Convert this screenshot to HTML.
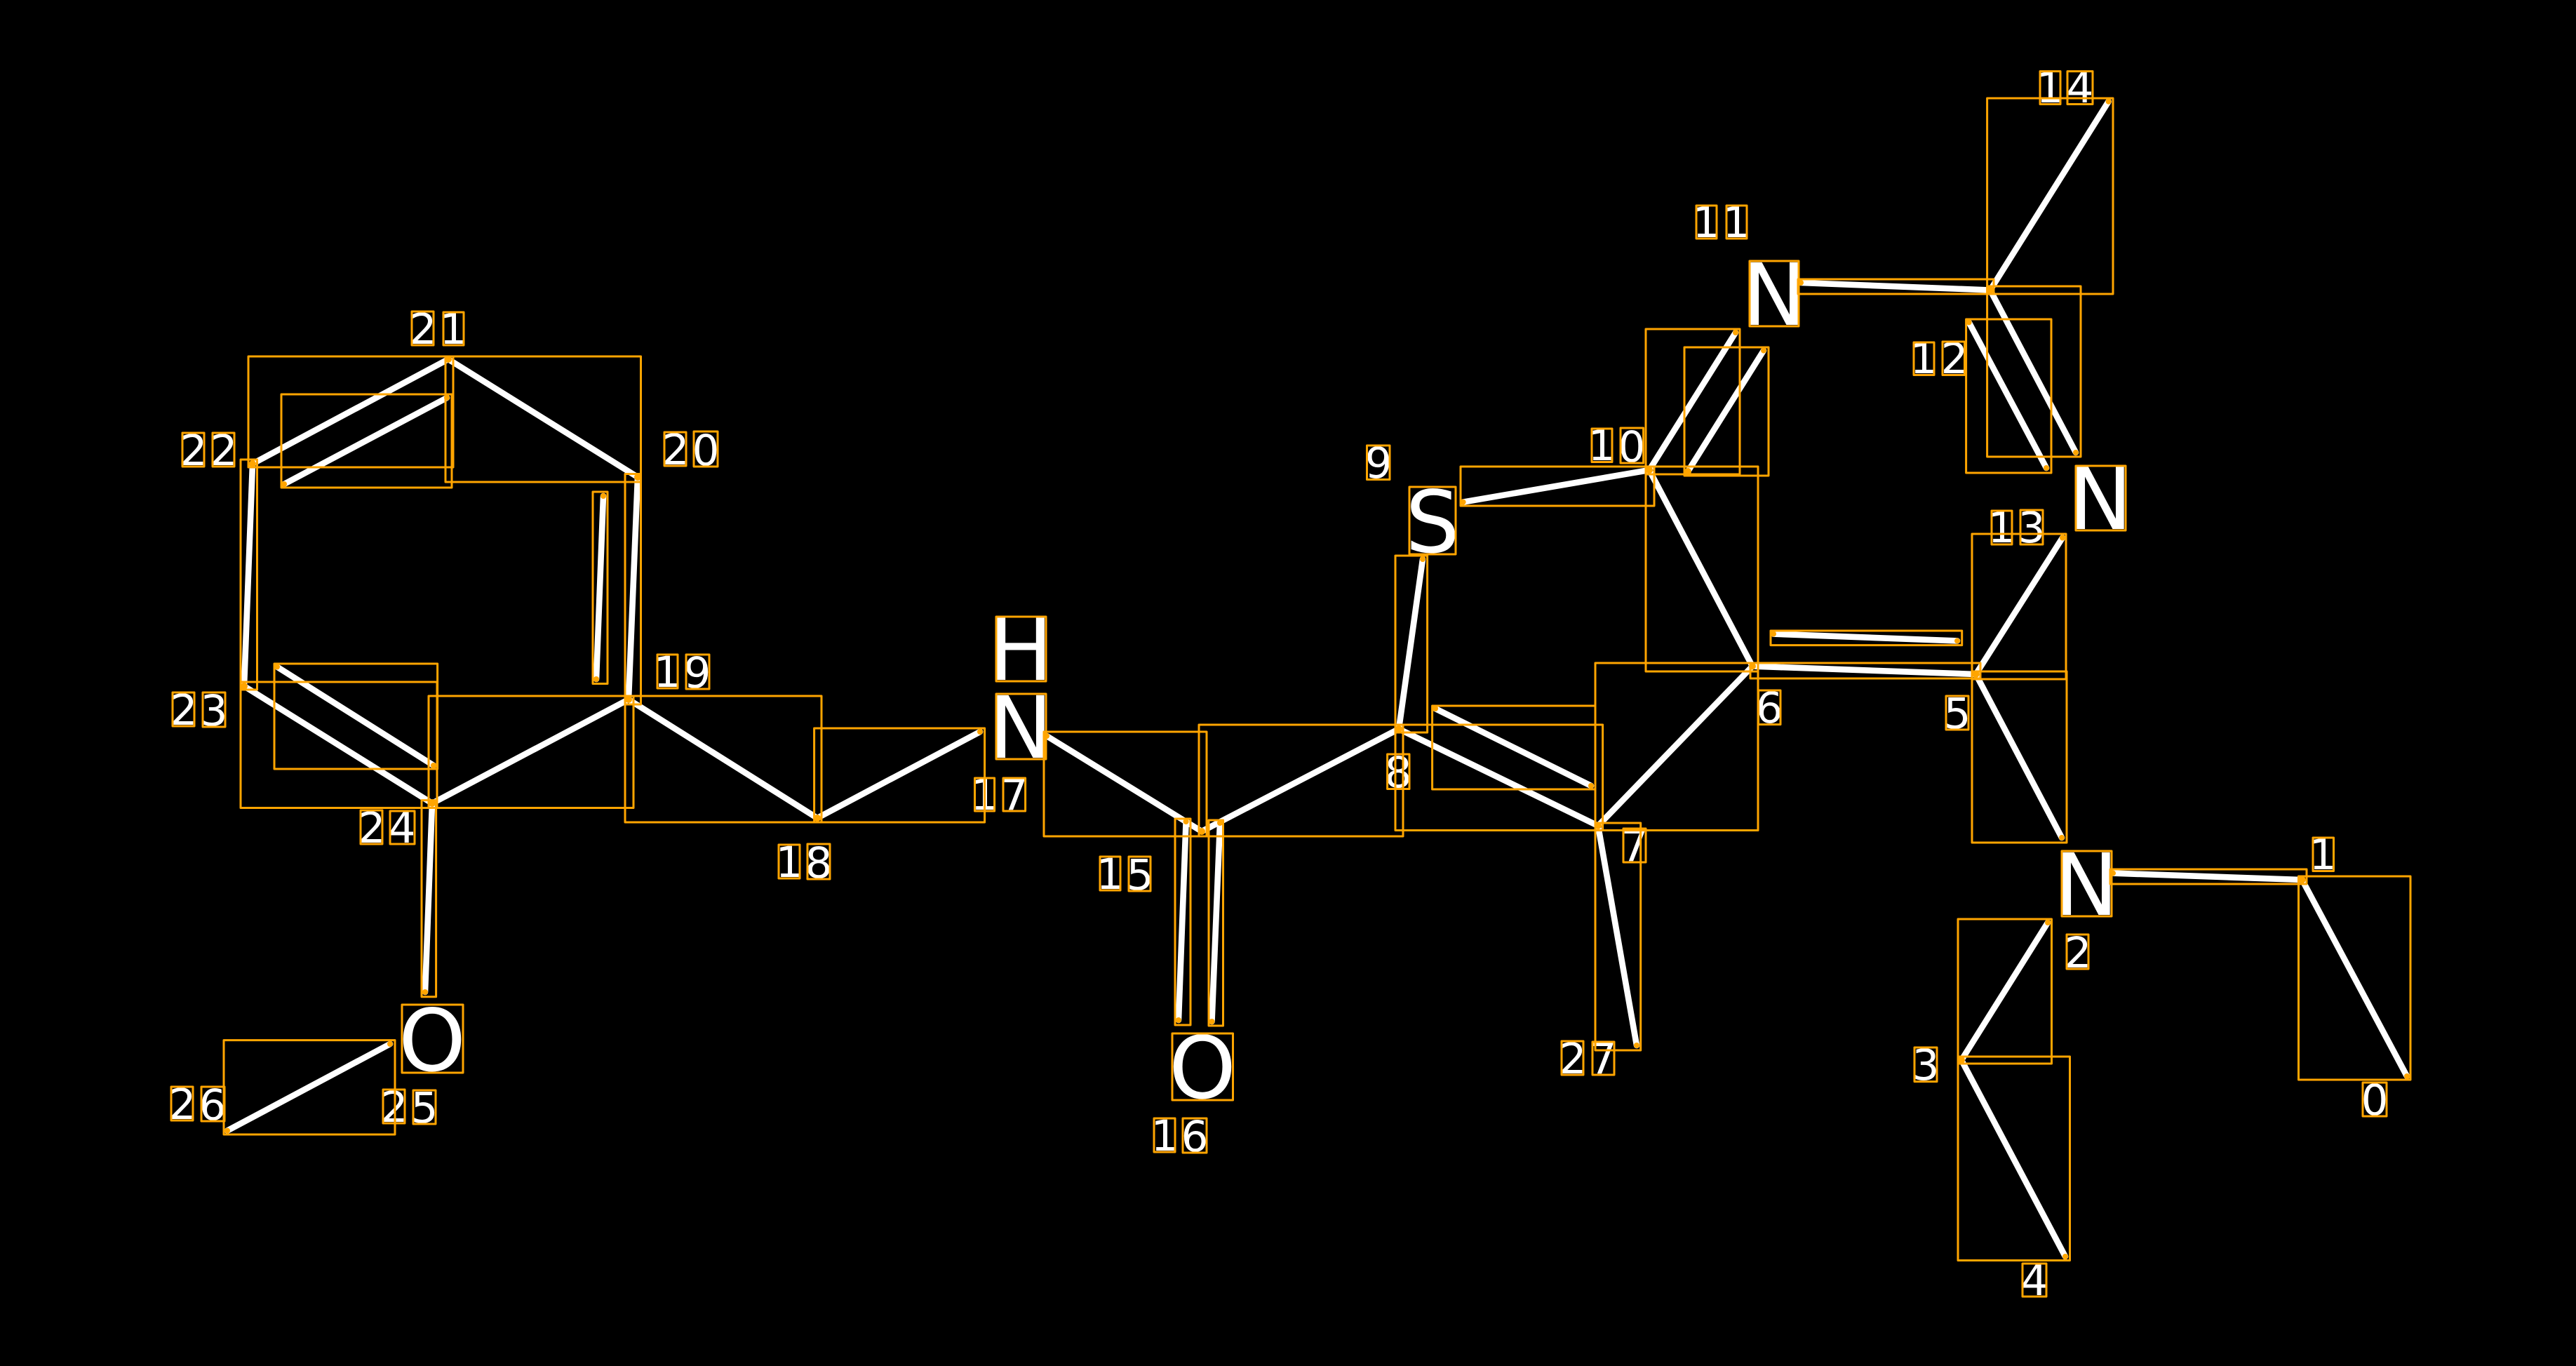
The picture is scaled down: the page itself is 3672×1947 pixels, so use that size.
<!DOCTYPE html>
<html><head><meta charset="utf-8"><style>
html,body{margin:0;padding:0;background:#000;width:3672px;height:1947px;overflow:hidden}
svg{display:block}
text{font-family:"DejaVu Sans","Liberation Sans",sans-serif;fill:#fff;text-anchor:middle}
.d{font-size:61px}.b{font-size:122px}
</style></head><body>
<svg width="3672" height="1947" viewBox="0 0 3672 1947" xmlns="http://www.w3.org/2000/svg">
<rect width="3672" height="1947" fill="#000"/>
<g stroke="#fff" stroke-width="8.6" stroke-linecap="round" fill="none">
<path d="M639 512L360 661M639 512L909 680M405 690L637 567M909 680L896 997M860 707L850 968M896 997L616 1145M348 978L616 1145M360 661L348 978M395 950.5L618 1091M896 997L1165 1166M1165 1166L1397 1043M1492 1049L1713 1185M1713 1185L1994 1039M1690.6 1171L1680 1454M1739 1173L1727.5 1456M1994 1039L2028 797M2085.6 715.6L2351 670M2351 670L2498 949.6M2498 949.6L2278 1177M1994 1039L2278 1177M2046 1010L2268 1120M2278 1177L2333 1490M2498 949.6L2816.5 961M2528 903.6L2790 913.4M2816.5 961L2940 766.5M2816.5 961L2939 1194M2351 670L2474 474M2406 672L2514 499.6M2567 403L2837 413.5M2837 413.5L3005.6 144.7M2837 413.5L2959 645M2806.6 459.4L2917 667M3012 1244.6L3281.6 1254M3281.6 1254L3431 1534M2919 1315L2796 1511M2796 1511L2944 1791M556 1488L324 1611.6M616 1145L606 1414"/>
</g>
<g class="d">
<text class="d" x="603" y="490">2</text><text class="d" x="646" y="490">1</text>
<text class="d" x="276" y="663">2</text><text class="d" x="319" y="663">2</text>
<text class="d" x="963" y="662">2</text><text class="d" x="1006" y="663">0</text>
<text class="d" x="951" y="979">1</text><text class="d" x="994" y="980">9</text>
<text class="d" x="262" y="1033">2</text><text class="d" x="305" y="1034">3</text>
<text class="d" x="530" y="1201">2</text><text class="d" x="573" y="1201">4</text>
<text class="d" x="260" y="1595">2</text><text class="d" x="303" y="1596">6</text>
<text class="d" x="562" y="1599">2</text><text class="d" x="605" y="1600">5</text>
<text class="d" x="1125" y="1250">1</text><text class="d" x="1167" y="1251">8</text>
<text class="d" x="1403" y="1154">1</text><text class="d" x="1446" y="1154">7</text>
<text class="d" x="1582" y="1267">1</text><text class="d" x="1625" y="1268">5</text>
<text class="d" x="1660" y="1640">1</text><text class="d" x="1703" y="1641">6</text>
<text class="d" x="1993" y="1122">8</text>
<text class="d" x="1965" y="681">9</text>
<text class="d" x="2283" y="656">1</text><text class="d" x="2326" y="658">0</text>
<text class="d" x="2522" y="1030">6</text>
<text class="d" x="2790" y="1038">5</text>
<text class="d" x="2330" y="1227">7</text>
<text class="d" x="2242" y="1530">2</text><text class="d" x="2285" y="1530">7</text>
<text class="d" x="2853" y="773">1</text><text class="d" x="2896" y="773">3</text>
<text class="d" x="2922" y="146">1</text><text class="d" x="2965" y="146">4</text>
<text class="d" x="2432" y="338">1</text><text class="d" x="2475" y="338">1</text>
<text class="d" x="2742" y="532">1</text><text class="d" x="2786" y="532">2</text>
<text class="d" x="3311" y="1239">1</text>
<text class="d" x="2962" y="1379">2</text>
<text class="d" x="2745" y="1539">3</text>
<text class="d" x="2900" y="1846">4</text>
<text class="d" x="3385" y="1589">0</text>
<text class="b" x="1455" y="969">H</text>
<text class="b" x="1455" y="1080">N</text>
<text class="b" x="616" y="1526">O</text>
<text class="b" x="1714" y="1565">O</text>
<text class="b" x="2042" y="787">S</text>
<text class="b" x="2529" y="463">N</text>
<text class="b" x="2994" y="754">N</text>
<text class="b" x="2974" y="1304">N</text>
</g>
<g fill="none" stroke="#FFA500" stroke-width="3" stroke-linejoin="round">
<path d="M354 508H646V666H354ZM635 508H913.5V687H635ZM401 562H644V695H401ZM845 701H866V974.5H845ZM891 675.5H913.5V1004H891ZM343 655H366.5V983H343ZM343 972H623V1151.5H343ZM391 946H623.6V1096H391ZM611 992H903V1151.5H611ZM891 992H1171V1172H891ZM1160.6 1038H1403.6V1172H1160.6ZM1488 1043H1720V1192H1488ZM1709 1033H2000V1192H1709ZM1675 1167H1697V1461H1675ZM1723 1169H1743.5V1462H1723ZM1989 792H2034.6V1044H1989ZM2082 665H2358V721H2082ZM2346 665H2506V957H2346ZM2274 945H2506V1183.5H2274ZM1989 1033H2284.6V1183.5H1989ZM2041.6 1006H2274V1125H2041.6ZM2495 945H2823V967H2495ZM2524 899H2796.7V919.6H2524ZM2274 1173H2338.7V1497H2274ZM2346 469H2480V676H2346ZM2401 495H2521V678H2401ZM2563 398H2842V419H2563ZM2832.6 140H3012V419H2832.6ZM2832.6 408H2966V651H2832.6ZM2802.6 455H2924V674H2802.6ZM2811 761H2945V968H2811ZM2811 957H2946V1201H2811ZM3008 1239H3288V1260H3008ZM3276.5 1249H3436V1539H3276.5ZM2791 1310H2924.5V1516H2791ZM2791 1506H2950.5V1796.5H2791ZM319 1482.6H563V1617H319ZM601 1140.6H621.6V1420.7H601Z"/>
<path d="M587 444H618V492H587ZM632 445H661V492H632ZM260 617H291V665H260ZM303 617H334V665H303ZM947 616H978V664H947ZM989 615H1023V665H989ZM937 933H966V981H937ZM978 933H1011V982H978ZM246 987H277V1035H246ZM289 987H321V1036H289ZM514 1155H545V1203H514ZM556 1156H591V1203H556ZM244 1549H275V1597H244ZM287 1549H320V1598H287ZM546 1553H577V1601H546ZM589 1554H621V1602H589ZM1110 1204H1140V1252H1110ZM1151 1203H1183V1253H1151ZM1389.5 1109H1417.6V1156H1389.5ZM1430 1109H1461.6V1156H1430ZM1568 1221H1597V1269H1568ZM1609 1221H1640V1270H1609ZM1645 1594H1675V1642H1645ZM1686 1594H1720V1643H1686ZM1977.6 1075H2009V1124.5H1977.6ZM1948.5 635H1981V683.5H1948.5ZM2269 611H2298V658.5H2269ZM2310 610H2342.6V660H2310ZM2506.5 984H2538V1032.6H2506.5ZM2774 992H2806V1040H2774ZM2314 1181H2346V1229H2314ZM2226 1484H2257V1532H2226ZM2270 1485H2301V1532H2270ZM2839 728H2868V776H2839ZM2880 727H2912V776H2880ZM2908 101.6H2937V148.5H2908ZM2947 101.6H2983V148.5H2947ZM2418 293H2447V340H2418ZM2461 293H2490V340H2461ZM2728 488H2757V534.5H2728ZM2769 487H2800.5V534.5H2769ZM3297 1194H3326.5V1241.5H3297ZM2946 1332H2977V1381H2946ZM2729 1493H2761V1541.6H2729ZM2883 1801H2917V1848H2883ZM3368 1543H3402V1591H3368Z"/>
<path d="M1420 879H1491V971H1420ZM1420 989H1491V1082H1420ZM573 1432H660V1529H573ZM1671 1473H1757.5V1568H1671ZM2009 694H2075V790H2009ZM2494 372H2564V465H2494ZM2959 664H3030V756H2959ZM2939 1213H3010V1306H2939Z"/>
</g>
<g fill="#FFA500">
<circle cx="639" cy="512" r="5"/><circle cx="360" cy="661" r="5"/><circle cx="909" cy="680" r="5"/><circle cx="896" cy="997" r="5"/><circle cx="348" cy="978" r="5"/><circle cx="616" cy="1145" r="5"/>
<circle cx="405" cy="690" r="4"/><circle cx="637" cy="567" r="4"/><circle cx="860" cy="707" r="4"/><circle cx="850" cy="968" r="4"/><circle cx="395" cy="950.5" r="4"/><circle cx="618" cy="1091" r="4"/>
<circle cx="1165" cy="1166" r="5"/><circle cx="1397" cy="1043" r="4"/><circle cx="1492" cy="1049" r="4"/><circle cx="1713" cy="1185" r="5"/><circle cx="1994" cy="1039" r="5"/>
<circle cx="1690.6" cy="1171" r="4"/><circle cx="1680" cy="1454" r="4"/><circle cx="1739" cy="1173" r="4"/><circle cx="1727.5" cy="1456" r="4"/>
<circle cx="2028" cy="797" r="4"/><circle cx="2085.6" cy="715.6" r="4"/><circle cx="2351" cy="670" r="5"/><circle cx="2498" cy="949.6" r="5"/><circle cx="2278" cy="1177" r="5"/>
<circle cx="2046" cy="1010" r="4"/><circle cx="2268" cy="1120" r="4"/><circle cx="2333" cy="1490" r="4"/><circle cx="2816.5" cy="961" r="5"/><circle cx="2528" cy="903.6" r="4"/><circle cx="2790" cy="913.4" r="4"/>
<circle cx="2940" cy="766.5" r="4"/><circle cx="2939" cy="1194" r="4"/><circle cx="2474" cy="474" r="4"/><circle cx="2406" cy="672" r="5"/><circle cx="2514" cy="499.6" r="4"/>
<circle cx="2567" cy="403" r="4"/><circle cx="2837" cy="413.5" r="5"/><circle cx="3005.6" cy="144.7" r="4"/><circle cx="2959" cy="645" r="4"/><circle cx="2806.6" cy="459.4" r="4"/><circle cx="2917" cy="667" r="4"/>
<circle cx="3012" cy="1244.6" r="4"/><circle cx="3281.6" cy="1254" r="5"/><circle cx="3431" cy="1534" r="4"/><circle cx="2919" cy="1315" r="4"/><circle cx="2796" cy="1511" r="5"/><circle cx="2944" cy="1791" r="4"/>
<circle cx="556" cy="1488" r="4"/><circle cx="324" cy="1611.6" r="4"/><circle cx="606" cy="1414" r="4"/>
</g>
</svg>
</body></html>
